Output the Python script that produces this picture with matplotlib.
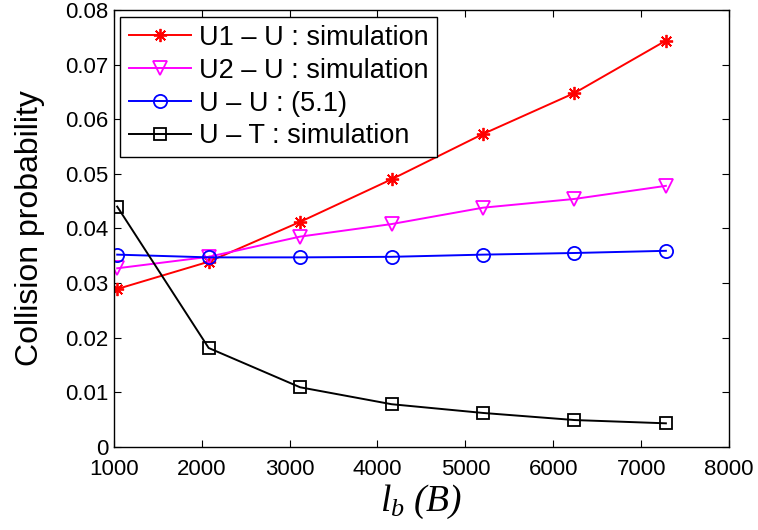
import matplotlib
matplotlib.use("Agg")
import matplotlib.pyplot as plt

plt.rcParams["font.family"] = ["Liberation Sans", "DejaVu Sans"]
plt.rcParams["mathtext.fontset"] = "custom"
plt.rcParams["mathtext.it"] = "Liberation Serif:italic"
plt.rcParams["mathtext.rm"] = "Liberation Serif:italic"

# packet length l_b (bytes)
lb = [1040, 2080, 3120, 4160, 5200, 6240, 7280]

u1_u_sim = [0.0289, 0.0339, 0.0412, 0.0490, 0.0573, 0.0648, 0.0744]
u2_u_sim = [0.0327, 0.0348, 0.0385, 0.0408, 0.0438, 0.0454, 0.0478]
u_u_model = [0.0352, 0.0347, 0.0347, 0.0348, 0.0352, 0.0355, 0.0359]
u_t_sim = [0.0440, 0.0181, 0.0109, 0.0078, 0.0062, 0.0049, 0.0043]

labels = ["U1 \u2013 U : simulation", "U2 \u2013 U : simulation",
          "U \u2013 U : (5.1)", "U \u2013 T : simulation"]
xticks = [1000, 2000, 3000, 4000, 5000, 6000, 7000, 8000]
yticks = [0, 0.01, 0.02, 0.03, 0.04, 0.05, 0.06, 0.07, 0.08]
ytick_labels = ["0", "0.01", "0.02", "0.03", "0.04", "0.05", "0.06", "0.07", "0.08"]

fig = plt.figure(figsize=(7.58, 5.30), dpi=100)
ax = fig.add_axes([0.150, 0.157, 0.812, 0.824])

lw = 1.4
ms = 9.5
ax.plot(lb, u1_u_sim, color="red", lw=lw, marker=(8, 2, 0), ms=ms,
        mew=1.3, label=labels[0])
ax.plot(lb, u2_u_sim, color="magenta", lw=lw, marker="v", ms=ms,
        mfc="none", mew=1.3, label=labels[1])
ax.plot(lb, u_u_model, color="blue", lw=lw, marker="o", ms=ms,
        mfc="none", mew=1.3, label=labels[2])
ax.plot(lb, u_t_sim, color="black", lw=lw, marker="s", ms=8.5,
        mfc="none", mew=1.3, label=labels[3])

ax.set_xlim(1000, 8000)
ax.set_ylim(0, 0.08)
ax.set_xticks(xticks)
ax.set_yticks(yticks)
ax.set_yticklabels(ytick_labels)
ax.tick_params(direction="in", top=True, right=True, labelsize=16,
               length=5, width=0.8)
ax.tick_params(axis="x", pad=9)
ax.tick_params(axis="y", pad=4)
for s in ax.spines.values():
    s.set_linewidth(1.0)

ax.set_ylabel("Collision probability", fontsize=23, labelpad=14)
ax.set_xlabel(r"$l_b\ (B)$", fontsize=27, labelpad=2)

leg = ax.legend(loc="upper left", fontsize=19.5, frameon=True, fancybox=False,
                edgecolor="black", framealpha=1, borderaxespad=0.25,
                handlelength=2.3, handletextpad=0.3, labelspacing=0.25,
                borderpad=0.3)
leg.get_frame().set_linewidth(1.0)

fig.savefig("out.png", dpi=100)
